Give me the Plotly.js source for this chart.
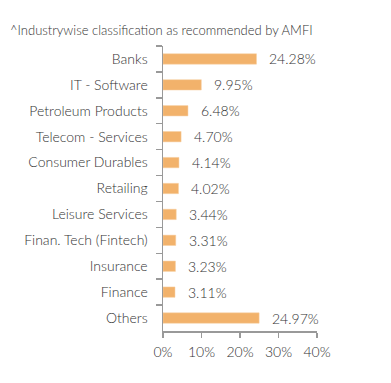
<!DOCTYPE html>
<html>
<head>
<meta charset="utf-8">
<script src="https://cdn.plot.ly/plotly-3.0.1.min.js"></script>
<style>
html,body{margin:0;padding:0;background:#fff;}
#chart{width:391px;height:383px;}
</style>
</head>
<body>
<div id="chart"></div>
<script>
const categories = ["Banks","IT - Software","Petroleum Products","Telecom - Services","Consumer Durables","Retailing","Leisure Services","Finan. Tech (Fintech)","Insurance","Finance","Others"];
const values = [24.28, 9.95, 6.48, 4.70, 4.14, 4.02, 3.44, 3.31, 3.23, 3.11, 24.97];
const xTickVals = [0, 10, 20, 30, 40];
const xTickText = ["0%", "10%", "20%", "30%", "40%"];
const chartTitle = "^Industrywise classification as recommended by AMFI";

const FONT = "Lato, 'Open Sans', sans-serif";
const TXT = "#333333";

const trace = {
  type: "bar",
  orientation: "h",
  x: values,
  y: categories,
  marker: {color: "#F2B26B", line: {color: "#F7CFA0", width: 0.5}},
  hoverinfo: "none"
};

const annotations = values.map((v, i) => ({
  x: v, y: categories[i], xref: "x", yref: "y",
  text: v.toFixed(2) + "%",
  showarrow: false, xanchor: "left", yanchor: "middle",
  xshift: 11,
  font: {family: FONT, size: 14, weight: 300, color: TXT}
}));

// chart title as a paper-anchored annotation
annotations.push({
  text: chartTitle, xref: "paper", yref: "paper",
  x: (8 - 163) / 154, y: (331 - 30) / 285,
  xanchor: "left", yanchor: "middle", showarrow: false,
  font: {family: FONT, size: 13, weight: 300, color: TXT}
});

const layout = {
  width: 391, height: 383,
  margin: {l: 163, r: 74, t: 46, b: 52},
  paper_bgcolor: "#fff", plot_bgcolor: "#fff",
  showlegend: false,
  bargap: 0.6,
  font: {family: FONT, size: 13, color: TXT},
  xaxis: {
    range: [0, 40], tickvals: xTickVals, ticktext: xTickText,
    showgrid: false, zeroline: false, showline: true, linecolor: "#999", linewidth: 1.5,
    ticks: "outside", ticklen: 5, tickcolor: "#999", tickwidth: 1.5,
    ticklabelstandoff: 3,
    tickfont: {family: FONT, size: 14, weight: 300, color: TXT}, fixedrange: true
  },
  yaxis: {
    autorange: "reversed", type: "category",
    showgrid: false, zeroline: false, showline: true, linecolor: "#999", linewidth: 1.5,
    ticks: "outside", ticklen: 6, tickcolor: "#999", tickwidth: 1.5, tickson: "boundaries",
    ticklabelstandoff: 11,
    tickfont: {family: FONT, size: 14, weight: 300, color: TXT}, fixedrange: true
  },
  annotations: annotations
};

Plotly.newPlot("chart", [trace], layout, {displayModeBar: false, staticPlot: true});
</script>
</body>
</html>
